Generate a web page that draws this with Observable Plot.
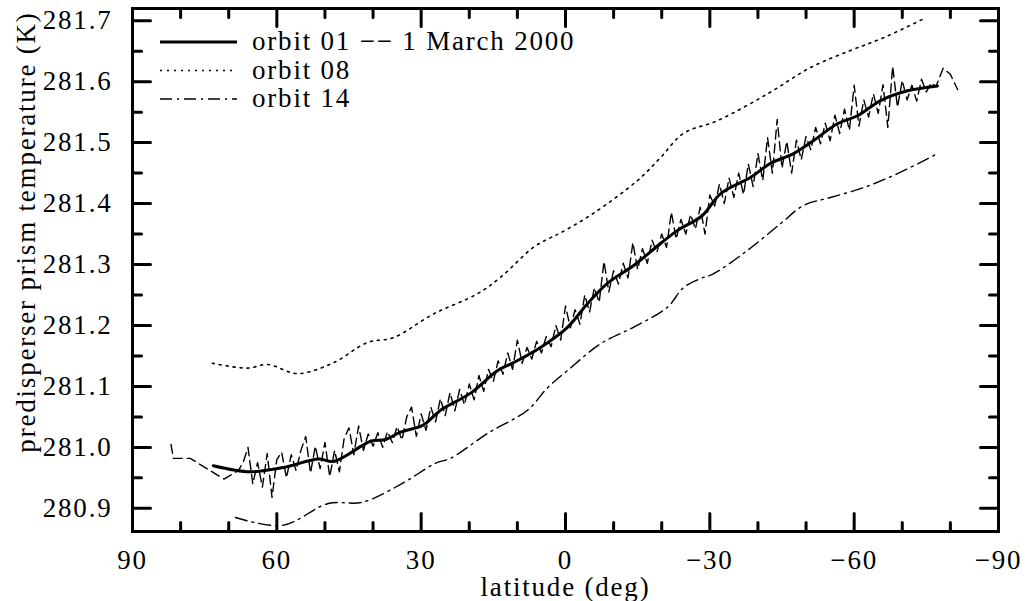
<!DOCTYPE html>
<html><head><meta charset="utf-8">
<script src="https://cdn.jsdelivr.net/npm/d3@7"></script>
<script src="https://cdn.jsdelivr.net/npm/@observablehq/plot@0.6"></script>
<style>
body{margin:0;background:#fff}
</style>
</head><body><div id="chart"></div>
<script>
// ---- data ----
const orbit01Lat = [73.2,65.5,58.6,51.3,48.2,40.5,37.4,34.3,29.7,27.0,25.4,19.7,14.1,10.8,5.2,-0.4,-4.6,-8.7,-14.1,-19.7,-23.3,-28.4,-32.2,-38.5,-42.6,-47.4,-51.5,-56.5,-60.7,-65.5,-71.1,-77.3];
const orbit01Val = [280.970,280.960,280.967,280.981,280.977,281.010,281.013,281.025,281.036,281.054,281.064,281.089,281.126,281.139,281.164,281.197,281.236,281.269,281.298,281.334,281.356,281.380,281.416,281.443,281.466,281.482,281.503,281.531,281.544,281.569,281.585,281.593];

const orbit08Lat = [73.4,66.1,61.9,55.7,48.2,41.2,35.8,27.4,18.3,13.5,6.7,3.1,1.0,-5.8,-15.0,-19.7,-24.5,-31.6,-42.0,-50.9,-59.2,-66.1,-74.4];
const orbit08Val = [281.138,281.130,281.136,281.121,281.139,281.172,281.180,281.219,281.252,281.279,281.328,281.344,281.352,281.384,281.438,281.475,281.515,281.536,281.580,281.623,281.651,281.672,281.703];

const orbit14Lat = [68.6,58.8,49.3,42.2,33.9,27.0,23.9,16.2,7.9,3.7,-0.4,-7.3,-14.1,-21.2,-24.5,-28.1,-30.8,-37.8,-44.7,-49.5,-55.1,-61.9,-69.0,-77.3];
const orbit14Val = [280.885,280.872,280.908,280.910,280.941,280.974,280.982,281.023,281.061,281.098,281.126,281.170,281.197,281.230,281.262,281.277,281.285,281.323,281.367,281.397,281.410,281.426,281.449,281.482];

const march2000Lat = [82,81.5,78,71,68,
 67,66,65,64,63,62,61,60,59,58,57,56,55,54,53,52,51,50,49,48,47,46,45,44,43,42,41,40,39,38,37,36,35,34,33,32,31,30,29,28,27,26,25,24,23,22,21,20,19,18,17,16,15,14,13,12,11,10,9,8,7,6,5,4,3,2,1,0,
 -1,-2,-3,-4,-5,-6,-7,-8,-9,-10,-11,-12,-13,-14,-15,-16,-17,-18,-19,-20,-21,-22,-23,-24,-25,-26,-27,-28,-29,-30,-31,-32,-33,-34,-35,-36,-37,-38,-39,-40,-41,-42,-43,-44,-45,-46,-47,-48,-49,-50,-51,-52,-53,-54,-55,-56,-57,-58,-59,-60,-61,-62,-63,-64,-65,-66,-67,-68,-69,-70,-71,-72,-73,-74,-75,-76,-77,
 -78.5,-80,-81.5];
const march2000Val = [281.005,280.982,280.982,280.948,280.962,
 280.975,281.000,280.940,280.975,280.935,280.990,280.918,280.980,280.992,280.950,280.988,280.962,280.995,281.018,280.958,281.002,280.965,281.008,280.952,280.995,280.960,281.015,281.032,280.988,281.035,280.995,281.022,281.002,281.024,281.000,281.026,281.008,281.034,281.012,281.050,281.066,281.018,281.055,281.028,281.066,281.042,281.080,281.052,281.090,281.060,281.095,281.070,281.104,281.078,281.118,281.092,281.128,281.108,281.142,281.120,281.155,281.128,281.176,281.138,281.164,281.145,281.174,281.155,281.182,281.165,281.200,281.176,281.232,
 281.196,281.226,281.202,281.250,281.222,281.262,281.238,281.305,281.255,281.290,281.268,281.302,281.278,281.336,281.292,281.326,281.302,281.340,281.320,281.350,281.328,281.386,281.342,281.374,281.350,281.382,281.358,281.394,281.350,281.414,281.396,281.432,281.400,281.442,281.410,281.450,281.415,281.465,281.428,281.482,281.438,281.508,281.450,281.538,281.458,281.502,281.450,281.504,281.472,281.510,281.488,281.525,281.498,281.532,281.503,281.545,281.515,281.555,281.520,281.594,281.527,281.570,281.542,281.580,281.548,281.595,281.525,281.625,281.558,281.602,281.570,281.594,281.568,281.604,281.583,281.598,281.592,
 281.622,281.612,281.587];

const xMajor = [90,60,30,0,-30,-60,-90];
const xMinor = [80,70,50,40,20,10,-10,-20,-40,-50,-70,-80];
const yMajor = [280.9,281.0,281.1,281.2,281.3,281.4,281.5,281.6,281.7];
const yMinor = [280.95,281.05,281.15,281.25,281.35,281.45,281.55,281.65];
const legendLabels = ["orbit 01 \u2212\u2212 1 March 2000","orbit 08","orbit 14"];
const xLabel = "latitude (deg)";
const yLabel = "predisperser prism temperature (K)";

const xDomain = [90, -90];
const yDomain = [280.862, 281.72];

const rows = (lat, val) => lat.map((x, i) => ({lat: x, t: val[i]}));
const o01 = rows(orbit01Lat, orbit01Val);
const o08 = rows(orbit08Lat, orbit08Val);
const o14 = rows(orbit14Lat, orbit14Val);
const m00 = rows(march2000Lat, march2000Val);

const fmtY = d3.format(".1f");
const fmtX = d3.format("d");

const W = 1026, H = 601, ML = 132, MR = 28, MT = 8, MB = 70;
const PW = W - ML - MR, PH = H - MT - MB;
const MAJ = 18, MIN = 9;

// inward tick segments: each tick starts on the frame edge at its tick value;
// its length (pixels) is converted to data units from the scale's domain/extent.
const degPerPx = (xDomain[0] - xDomain[1]) / PW;
const kPerPx = (yDomain[1] - yDomain[0]) / PH;
const tickSegs = [];
let id = 0;
xMajor.map(v => [v, MAJ]).concat(xMinor.map(v => [v, MIN])).forEach(([v, len]) => {
  tickSegs.push({id, x: v, y: yDomain[0]}, {id: id++, x: v, y: yDomain[0] + len * kPerPx});
  tickSegs.push({id, x: v, y: yDomain[1]}, {id: id++, x: v, y: yDomain[1] - len * kPerPx});
});
yMajor.map(v => [v, MAJ]).concat(yMinor.map(v => [v, MIN])).forEach(([v, len]) => {
  tickSegs.push({id, x: xDomain[0], y: v}, {id: id++, x: xDomain[0] - len * degPerPx, y: v});
  tickSegs.push({id, x: xDomain[1], y: v}, {id: id++, x: xDomain[1] + len * degPerPx, y: v});
});

const plot = Plot.plot({
  width: W, height: H,
  marginLeft: ML, marginRight: MR, marginTop: MT, marginBottom: MB,
  style: {fontFamily: "'Liberation Serif', serif", fontSize: "27px", letterSpacing: "1.8px", color: "black", background: "white"},
  x: {domain: xDomain},
  y: {domain: yDomain},
  marks: [
    Plot.line(m00, {x: "lat", y: "t", stroke: "black", strokeWidth: 1.4, strokeDasharray: "9,5"}),
    Plot.line(o08, {x: "lat", y: "t", stroke: "black", strokeWidth: 1.6, strokeDasharray: "2,5", curve: "catmull-rom"}),
    Plot.line(o14, {x: "lat", y: "t", stroke: "black", strokeWidth: 1.4, strokeDasharray: "12,5,2,5", curve: "catmull-rom"}),
    Plot.line(o01, {x: "lat", y: "t", stroke: "black", strokeWidth: 3, curve: "catmull-rom"}),
    Plot.line(tickSegs, {x: "x", y: "y", z: "id", stroke: "black", strokeWidth: 3}),
    Plot.axisX(xMajor, {anchor: "bottom", tickSize: 0, tickPadding: 18, tickFormat: fmtX, label: null}),
    Plot.axisY(yMajor, {anchor: "left", tickSize: 0, tickPadding: 20, tickFormat: fmtY, label: null}),
    Plot.frame({stroke: "black", strokeWidth: 3}),
    Plot.text([xLabel], {frameAnchor: "bottom", dy: 56, textAnchor: "middle", lineAnchor: "middle", fill: "black"}),
    Plot.text([yLabel], {frameAnchor: "left", dx: -106, dy: -38, rotate: -90, textAnchor: "middle", lineAnchor: "middle", fill: "black"})
  ]
});

const svg = d3.select(plot);

// legend drawn inside the plot frame
const lg = svg.append("g").attr("class", "legend").attr("text-anchor", "start");
const legendStyles = [
  {dash: null, w: 3},
  {dash: "2,5", w: 1.6},
  {dash: "12,5,2,5", w: 1.4}
];
legendLabels.forEach((lab, i) => {
  const y = 42 + i * 28.5;
  const ln = lg.append("line").attr("x1", 160).attr("x2", 237).attr("y1", y).attr("y2", y)
    .attr("stroke", "black").attr("stroke-width", legendStyles[i].w);
  if (legendStyles[i].dash) ln.attr("stroke-dasharray", legendStyles[i].dash);
  lg.append("text").attr("x", 252).attr("y", y + 8).attr("fill", "black")
    .attr("text-anchor", "start").text(lab);
});

document.getElementById("chart").appendChild(plot);
</script>
</body></html>
